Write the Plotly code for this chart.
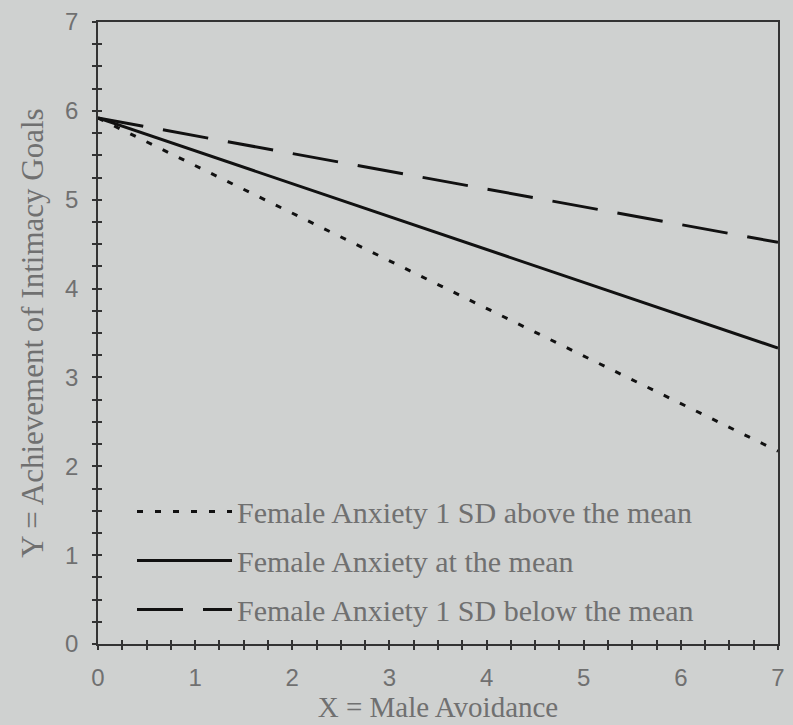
import plotly.graph_objects as go

x_vals = [0, 7]
above_mean = [5.92, 2.17]
at_mean = [5.92, 3.33]
below_mean = [5.92, 4.52]
series_names = [
    "Female Anxiety 1 SD above the mean",
    "Female Anxiety at the mean",
    "Female Anxiety 1 SD below the mean",
]
tick_vals = [0, 1, 2, 3, 4, 5, 6, 7]

bg = "#cfd1d0"
txt = "#707070"
serif = "Liberation Serif, Times New Roman, serif"
sans = "Liberation Sans Narrow, Liberation Sans, Arial, sans-serif"

fig = go.Figure()
styles = [("6px,12px", above_mean), ("solid", at_mean), ("46px,20px", below_mean)]
for i, (name, (dash, ys)) in enumerate(zip(series_names, styles)):
    fig.add_trace(go.Scatter(
        x=x_vals, y=ys, mode="lines", name=name, legendgroup=f"g{i}",
        line=dict(color="#111111", width=3, dash=dash),
    ))

# invisible overlay trace to carry inside ticks (crossing tick effect)
fig.add_trace(go.Scatter(x=x_vals, y=at_mean, xaxis="x2", yaxis="y2",
                         mode="lines", line=dict(width=0), showlegend=False,
                         hoverinfo="skip"))

axis_common = dict(range=[0, 7], tickvals=tick_vals, showgrid=False, zeroline=False,
                   showline=True, linecolor="#333333", linewidth=1.5,
                   ticks="outside", ticklen=4, tickwidth=1.5, tickcolor="#333333",
                   minor=dict(dtick=0.25, ticks="outside", ticklen=4, tickwidth=1.5,
                              tickcolor="#333333", showgrid=False),
                   tickfont=dict(family=sans, size=24, color=txt))

fig.update_layout(
    width=793, height=725,
    margin=dict(l=98, r=8, t=21, b=77),
    paper_bgcolor=bg, plot_bgcolor=bg,
    showlegend=True,
    legend=dict(x=0.05, y=0.255, xanchor="left", yanchor="top",
                bgcolor="rgba(0,0,0,0)", borderwidth=0,
                font=dict(family=serif, size=30, color=txt),
                tracegroupgap=7, itemwidth=95),
    xaxis=dict(**axis_common, mirror=True, ticklabelstandoff=7,
               title=dict(text="X = Male Avoidance", standoff=6,
                          font=dict(family=serif, size=29, color=txt))),
    yaxis=dict(**axis_common, mirror=True, ticklabelstandoff=9,
               title=dict(text="Y = Achievement of Intimacy Goals", standoff=12,
                          font=dict(family=serif, size=31, color=txt))),
    xaxis2=dict(range=[0, 7], overlaying="x", tickvals=tick_vals, showticklabels=False,
                showgrid=False, zeroline=False, showline=False,
                ticks="inside", ticklen=4, tickwidth=1.5, tickcolor="#333333",
                minor=dict(dtick=0.25, ticks="inside", ticklen=4, tickwidth=1.5,
                           tickcolor="#333333", showgrid=False)),
    yaxis2=dict(range=[0, 7], overlaying="y", tickvals=tick_vals, showticklabels=False,
                showgrid=False, zeroline=False, showline=False,
                ticks="inside", ticklen=4, tickwidth=1.5, tickcolor="#333333",
                minor=dict(dtick=0.25, ticks="inside", ticklen=4, tickwidth=1.5,
                           tickcolor="#333333", showgrid=False)),
)

fig.write_html("out.html")
